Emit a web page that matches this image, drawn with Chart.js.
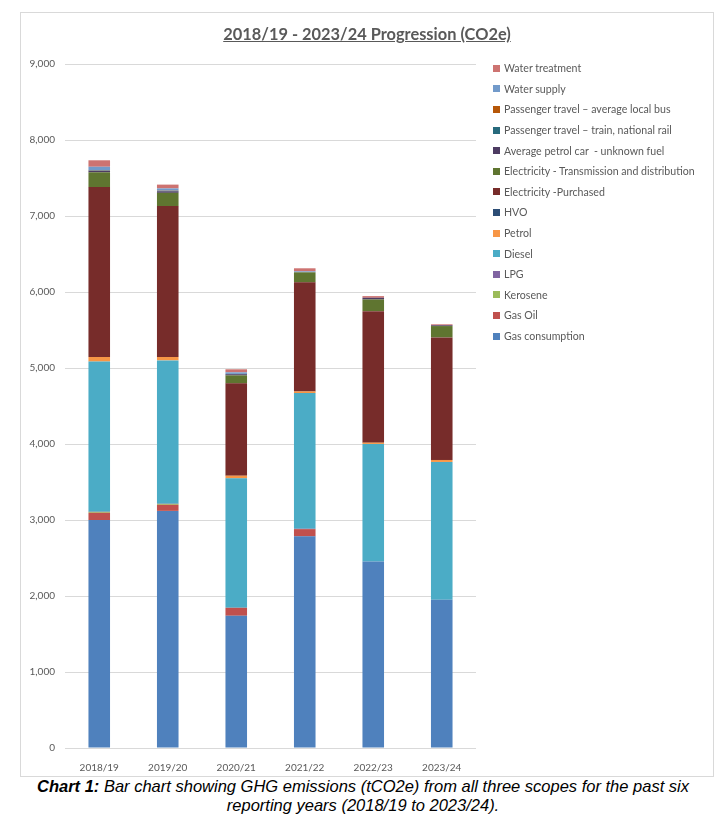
<!DOCTYPE html>
<html>
<head>
<meta charset="utf-8">
<script src="https://cdn.jsdelivr.net/npm/chart.js@4.4.1/dist/chart.umd.min.js"></script>
<style>
  body { margin: 0; background: #fff; font-family: Lato, sans-serif; }
  .frame { position: absolute; left: 20px; top: 12px; width: 692px; height: 763px; border: 1px solid #d9d9d9; }
  .chart-box { position: absolute; left: 0; top: 0; width: 692px; height: 763px; }
  .title { position: absolute; left: 0; width: 692px; top: 11px; text-align: center; font-weight: bold; font-size: 16.4px; color: #595959; text-decoration: underline; }
  .legend { position: absolute; left: 472px; top: 45px; font-size: 10.6px; color: #595959; }
  .legend-item { height: 20.6px; display: flex; align-items: center; white-space: pre; }
  .legend-dot { width: 7px; height: 7px; margin-right: 4px; }
  .caption { position: absolute; left: 0; width: 726px; top: 777px; text-align: center; font-family: "Liberation Sans", sans-serif; font-style: italic; font-size: 16.5px; line-height: 19px; color: #000; }
</style>
</head>
<body>
<div class="frame">
  <div class="chart-box"><canvas id="ghgChart"></canvas></div>
  <div class="title">2018/19 - 2023/24 Progression (CO2e)</div>
  <div class="legend" id="ghgLegend"></div>
</div>
<div class="caption"><b>Chart 1:</b> Bar chart showing GHG emissions (tCO2e) from all three scopes for the past six<br>reporting years (2018/19 to 2023/24).</div>

<script>
// ── DATA (tCO2e) ──
const years = ['2018/19', '2019/20', '2020/21', '2021/22', '2022/23', '2023/24'];
const gasConsumption = [3000, 3120, 1740, 2785, 2455, 1950];
const gasOil         = [95, 80, 105, 95, 0, 0];
const kerosene       = [12, 12, 0, 0, 0, 0];
const lpg            = [3, 3, 0, 5, 0, 0];
const diesel         = [1975, 1885, 1703, 1785, 1546, 1814];
const petrol         = [60, 45, 35, 22, 17, 26];
const hvo            = [0, 0, 0, 0, 0, 0];
const elecPurchased  = [2235, 1985, 1215, 1435, 1730, 1612];
const elecTD         = [195, 175, 105, 132, 154, 150];
const petrolCar      = [20, 20, 15, 0, 22, 10];
const trainTravel    = [5, 5, 5, 0, 0, 0];
const busTravel      = [3, 3, 0, 0, 0, 0];
const waterSupply    = [45, 30, 20, 13, 0, 0];
const waterTreatment = [85, 50, 40, 40, 22, 13];

const yTicks = { min: 0, max: 9000, step: 1000 };

const series = [
    { label: 'Gas consumption', data: gasConsumption, color: '#4f81bd' },
    { label: 'Gas Oil', data: gasOil, color: '#c0504d' },
    { label: 'Kerosene', data: kerosene, color: '#9bbb59' },
    { label: 'LPG', data: lpg, color: '#8064a2' },
    { label: 'Diesel', data: diesel, color: '#4bacc6' },
    { label: 'Petrol', data: petrol, color: '#f79646' },
    { label: 'HVO', data: hvo, color: '#2c4d75' },
    { label: 'Electricity -Purchased', data: elecPurchased, color: '#772c2a' },
    { label: 'Electricity - Transmission and distribution', data: elecTD, color: '#5f7530' },
    { label: 'Average petrol car  - unknown fuel', data: petrolCar, color: '#4d3b62' },
    { label: 'Passenger travel \u2013 train, national rail', data: trainTravel, color: '#276a7c' },
    { label: 'Passenger travel \u2013 average local bus', data: busTravel, color: '#b65708' },
    { label: 'Water supply', data: waterSupply, color: '#729aca' },
    { label: 'Water treatment', data: waterTreatment, color: '#cd7371' },
];

// ── CHART ──
const ctx = document.getElementById('ghgChart').getContext('2d');
new Chart(ctx, {
    type: 'bar',
    data: {
        labels: years,
        datasets: series.map(s => ({
            label: s.label,
            data: s.data,
            backgroundColor: s.color,
            borderWidth: 0,
            barPercentage: 0.315,
            categoryPercentage: 1,
        }))
    },
    options: {
        responsive: true, maintainAspectRatio: false,
        animation: false,
        layout: { padding: { top: 51, right: 237, bottom: 0, left: 0 } },
        plugins: { legend: { display: false }, tooltip: { enabled: false } },
        scales: {
            x: {
                stacked: true,
                grid: { display: false },
                border: { display: false },
                ticks: { font: { family: 'Lato', size: 10 }, color: '#595959', padding: 6 },
                afterFit: s => { s.height = 28; }
            },
            y: {
                stacked: true,
                min: yTicks.min, max: yTicks.max,
                grid: { color: '#d9d9d9', drawTicks: false },
                border: { display: false },
                ticks: {
                    stepSize: yTicks.step, padding: 10,
                    font: { family: 'Lato', size: 10 }, color: '#595959',
                    callback: v => v.toLocaleString('en-GB')
                },
                afterFit: s => { s.width = 44; }
            }
        }
    }
});

// Legend (top item = last series)
const legendEl = document.getElementById('ghgLegend');
series.slice().reverse().forEach(s => {
    legendEl.innerHTML += `
        <div class="legend-item">
            <div class="legend-dot" style="background:${s.color}"></div>
            <span>${s.label}</span>
        </div>`;
});
</script>
</body>
</html>
